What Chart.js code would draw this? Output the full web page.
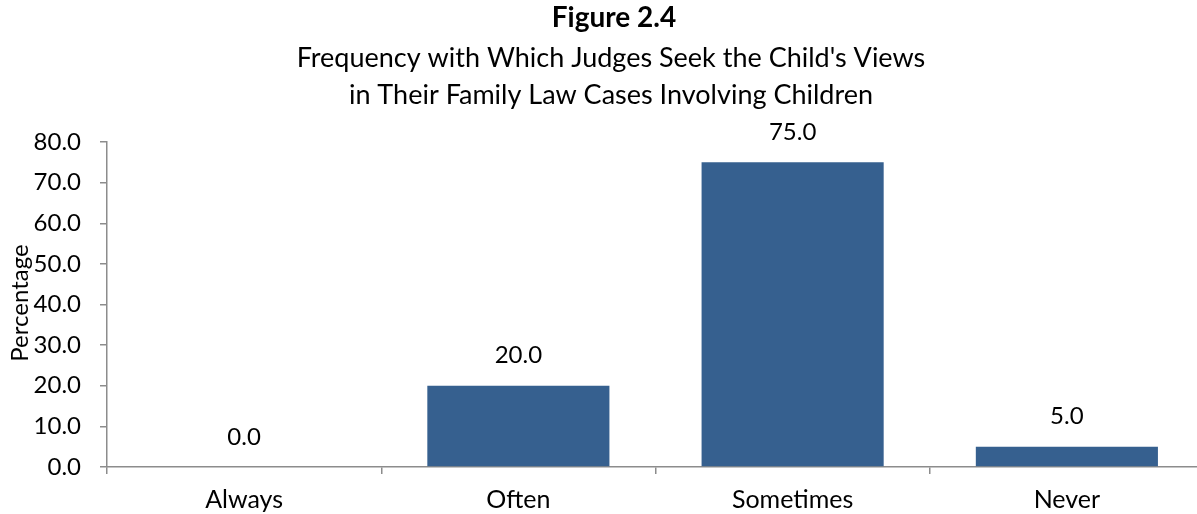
<!DOCTYPE html>
<html>
<head>
<meta charset="utf-8">
<script src="https://cdn.jsdelivr.net/npm/chart.js@4.4.1/dist/chart.umd.min.js"></script>
<style>
html,body{margin:0;padding:0;background:#fff;overflow:hidden;}
#wrap{width:1197px;height:514px;position:relative;overflow:hidden;}
</style>
</head>
<body>
<div id="wrap"><canvas id="c" width="1204" height="514"></canvas></div>
<script>
const categories = ["Always", "Often", "Sometimes", "Never"];
const percentages = [0.0, 20.0, 75.0, 5.0];
const titleText = "Figure 2.4";
const subtitleLines = ["Frequency with Which Judges Seek the Child's Views", "in Their Family Law Cases Involving Children"];
const yAxisTitle = "Percentage";

const FONT = "Lato, 'Open Sans', sans-serif";
const AXIS_GRAY = "#8c8c8c";

const overlay = {
  id: "overlay",
  afterDatasetsDraw(chart) {
    const ctx = chart.ctx;
    ctx.save();
    ctx.fillStyle = "#000";
    ctx.textAlign = "center";
    ctx.textBaseline = "middle";
    ctx.font = "bold 28px " + FONT;
    ctx.fillText(titleText, 614, 18);
    ctx.font = "27px " + FONT;
    ctx.fillText(subtitleLines[0], 611, 58);
    ctx.fillText(subtitleLines[1], 611, 95);
    const meta = chart.getDatasetMeta(0);
    ctx.font = "24px " + FONT;
    meta.data.forEach((bar, i) => {
      ctx.fillText(percentages[i].toFixed(1), bar.x, bar.y - 30);
    });
    ctx.translate(20, 303);
    ctx.rotate(-Math.PI / 2);
    ctx.font = "24px " + FONT;
    ctx.fillText(yAxisTitle, 0, 0);
    ctx.restore();
  }
};

new Chart(document.getElementById("c"), {
  type: "bar",
  data: {
    labels: categories,
    datasets: [{
      data: percentages,
      backgroundColor: "#36608F",
      borderWidth: 0,
      categoryPercentage: 1.0,
      barPercentage: 0.664
    }]
  },
  options: {
    responsive: false,
    animation: false,
    devicePixelRatio: 1,
    layout: { padding: { top: 142, left: 0, right: 0, bottom: 0 } },
    plugins: { legend: { display: false }, tooltip: { enabled: false }, title: { display: false } },
    scales: {
      x: {
        offset: true,
        grid: { offset: true, drawOnChartArea: false, drawTicks: true, tickLength: 7, color: AXIS_GRAY, lineWidth: 1.5 },
        border: { color: AXIS_GRAY, width: 1.5 },
        ticks: { color: "#000", font: { family: FONT, size: 25 }, padding: 11, maxRotation: 0 },
        afterFit(s) { s.height = 47; }
      },
      y: {
        min: 0, max: 80,
        grid: { drawOnChartArea: false, drawTicks: true, tickLength: 7, color: AXIS_GRAY, lineWidth: 1.5 },
        border: { color: AXIS_GRAY, width: 1.5 },
        ticks: { stepSize: 10, color: "#000", font: { family: FONT, size: 24 }, padding: 19,
                 callback: v => Number(v).toFixed(1) },
        afterFit(s) { s.width = 107; }
      }
    }
  },
  plugins: [overlay]
});
</script>
</body>
</html>
